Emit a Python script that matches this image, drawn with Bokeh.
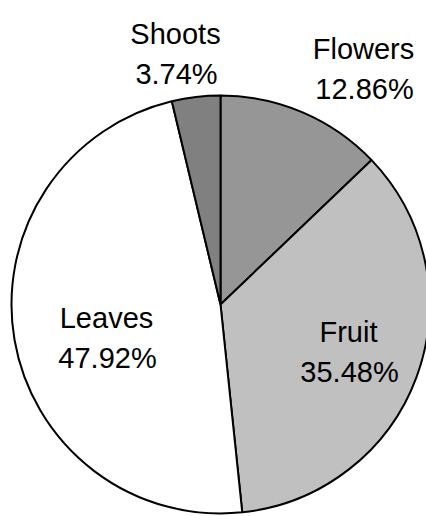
import math
from bokeh.plotting import figure
from bokeh.models import Range1d, ColumnDataSource
from bokeh.core.properties import value
from bokeh.embed import file_html
from bokeh.resources import INLINE

# Data (clockwise from 12 o'clock)
categories = ["Flowers", "Fruit", "Leaves", "Shoots"]
shares = [12.86, 35.48, 47.92, 3.74]
colors = ["#969696", "#C0C0C0", "#FFFFFF", "#808080"]

# label anchor layout (image pixels: centre x, baseline y of first line)
label_x = [363, 348, 106, 175]
label_y = [48, 331, 317, 33]
line_gap = 40

W, H = 426, 516
p = figure(width=W, height=H, output_backend="svg", toolbar_location=None,
           x_range=Range1d(0, W), y_range=Range1d(0, H),
           min_border=0, outline_line_color=None, background_fill_color="white")
p.axis.visible = False
p.grid.visible = False

cx, cy, r = 220, H - 304, 209
total = sum(shares)
starts, ends = [], []
a = math.pi / 2
for s in shares:
    span = 2 * math.pi * s / total
    starts.append(a)
    ends.append(a - span)
    a -= span

src = ColumnDataSource(dict(cat=categories, start=starts, end=ends, color=colors))
p.wedge(x=cx, y=cy, radius=r, start_angle="start", end_angle="end",
        direction="clock", fill_color="color", line_color="black",
        line_width=2, source=src)

ys = [H - y for y in label_y]
p.text(x=label_x, y=ys, text=categories, text_align="center",
       text_baseline="alphabetic", text_font=value("Liberation Sans"),
       text_font_size="29px", text_color="black")
p.text(x=[x + 1 for x in label_x], y=[y - line_gap for y in ys],
       text=[f"{s:.2f}%" for s in shares], text_align="center",
       text_baseline="alphabetic", text_font=value("Liberation Sans"),
       text_font_size="29px", text_color="black")

open("out.html", "w").write(file_html(p, INLINE))
